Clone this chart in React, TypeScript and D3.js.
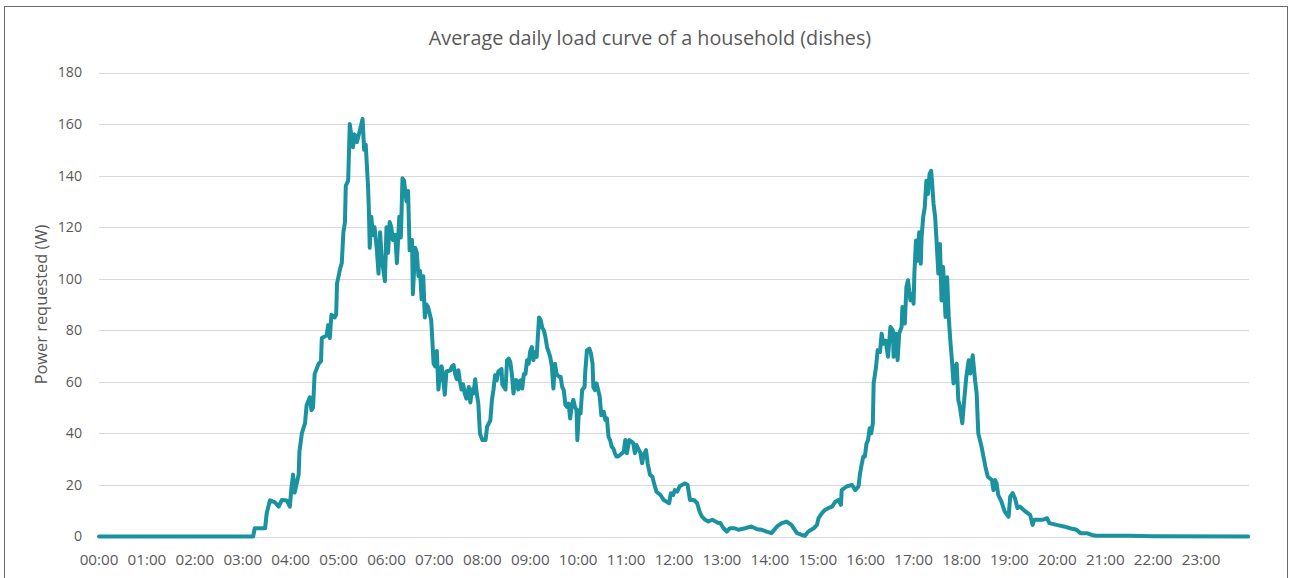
import React from "react";
import * as d3 from "d3";

const title = "Average daily load curve of a household (dishes)";
const yTitle = "Power requested (W)";
const hourLabels = [
  "00:00","01:00","02:00","03:00","04:00","05:00","06:00","07:00","08:00","09:00","10:00","11:00",
  "12:00","13:00","14:00","15:00","16:00","17:00","18:00","19:00","20:00","21:00","22:00","23:00",
];
const yTicks = [0, 20, 40, 60, 80, 100, 120, 140, 160, 180];

// time of day in minutes
const minutes = [
  0, 193, 195, 208, 210, 214, 220, 225, 229, 235, 239, 241, 243, 245, 250, 251, 254, 258, 260, 264,
  266, 268, 270, 275, 278, 279, 285, 287, 289, 291, 295, 297, 298, 302, 304, 306, 308, 309, 312, 314,
  318, 320, 323, 327, 330, 332, 334, 337, 338, 339, 341, 343, 345, 348, 350, 352, 354, 358, 360, 362,
  364, 366, 368, 371, 373, 376, 378, 380, 382, 385, 387, 389, 392, 393, 396, 398, 400, 402, 404, 406,
  408, 410, 412, 416, 419, 421, 423, 425, 427, 429, 431, 433, 435, 440, 442, 444, 446, 448, 450, 452,
  454, 456, 458, 460, 463, 465, 467, 469, 471, 473, 475, 477, 480, 484, 486, 490, 492, 494, 496, 498,
  500, 504, 505, 509, 511, 513, 515, 517, 519, 521, 523, 525, 528, 530, 532, 534, 536, 538, 540, 542,
  544, 546, 548, 551, 553, 555, 557, 559, 561, 563, 565, 567, 569, 571, 573, 576, 578, 580, 582, 584,
  586, 588, 590, 592, 594, 596, 598, 599, 601, 603, 605, 608, 609, 611, 614, 616, 618, 619, 621, 623,
  625, 627, 629, 632, 634, 636, 638, 640, 642, 644, 646, 648, 650, 655, 657, 659, 661, 664, 667, 669,
  671, 673, 675, 678, 680, 682, 685, 687, 690, 693, 695, 698, 703, 707, 711, 714, 716, 719, 721, 724,
  727, 730, 734, 737, 740, 745, 749, 752, 755, 759, 763, 768, 772, 776, 778, 782, 786, 790, 796, 801,
  809, 817, 824, 830, 836, 842, 849, 855, 861, 867, 874, 880, 884, 888, 895, 899, 901, 905, 909, 913,
  918, 922, 926, 929, 930, 936, 943, 947, 951, 953, 955, 957, 959, 961, 963, 965, 967, 969, 970, 973,
  975, 978, 980, 982, 985, 988, 991, 994, 995, 998, 1000, 1002, 1005, 1006, 1009, 1011, 1013, 1016, 1018, 1020,
  1021, 1023, 1025, 1027, 1029, 1030, 1032, 1034, 1036, 1038, 1040, 1042, 1043, 1045, 1047, 1049, 1051, 1053, 1055, 1057,
  1060, 1062, 1064, 1066, 1068, 1070, 1072, 1074, 1076, 1078, 1081, 1083, 1086, 1089, 1091, 1094, 1097, 1099, 1101, 1105,
  1110, 1113, 1118, 1120, 1122, 1124, 1126, 1130, 1134, 1139, 1141, 1144, 1147, 1150, 1153, 1160, 1166, 1169, 1171, 1176,
  1182, 1187, 1190, 1199, 1208, 1216, 1224, 1229, 1237, 1243, 1249, 1290, 1320, 1439,
];
// average power in watts
const watts = [
  0, 0, 3.2, 3.2, 9, 14, 13.3, 11.6, 14.2, 14, 11.6, 19, 24, 17, 24, 33, 40, 44, 51, 54,
  49, 50, 63, 67, 68, 77, 78, 82, 77, 86, 85, 86, 98, 104, 106, 118, 122, 136, 138, 160,
  151, 156, 153, 158, 162, 150, 152, 135, 126, 112, 124, 117, 120, 111, 102, 118, 108, 99, 120, 110,
  122, 120, 115, 117, 106, 124, 116, 139, 138, 130, 134, 111, 115, 94, 112, 110, 101, 103, 92, 101,
  85, 90, 89, 84, 67, 66, 72, 57, 63, 66, 61, 55, 64, 64.5, 66, 66.5, 63, 61, 64.5, 60,
  57, 59, 55.5, 53.5, 58, 52, 57, 55.5, 61, 55.5, 51.6, 40, 37.4, 37.4, 42.6, 45, 53, 57, 62.6, 60.6,
  64, 65, 59, 57, 68.4, 69, 67.7, 63, 55.5, 60.6, 60.6, 57, 60.6, 57.4, 63, 63, 68.4, 67, 72, 73.5,
  68.4, 71.6, 69.7, 85, 84, 81, 80, 77.4, 73.5, 71.6, 69.7, 66, 57.4, 67, 63, 62, 62, 58, 56.8, 51,
  50.3, 51.6, 45.8, 51, 53, 50.3, 49, 37.4, 49, 47.7, 56.8, 58, 64.5, 72.3, 72.9, 71, 67, 58, 56.8, 59.4,
  56.8, 54.2, 47, 48.4, 45.2, 45.8, 38.7, 37.4, 34.8, 34.2, 32.3, 31, 31, 32.3, 32.9, 37.4, 32.3, 37.4, 36.8, 36.1,
  32.3, 35.5, 34.2, 32.3, 28.4, 31.6, 33.5, 28.4, 23.9, 23.2, 20.6, 17.4, 16.1, 14.2, 13.5, 12.9, 16.8, 16.1, 18, 17.4,
  19.4, 20, 20.6, 20, 14.2, 14.2, 12.9, 9.7, 7.7, 6.5, 5.8, 6.5, 5.8, 5.2, 5.2, 3.2, 1.9, 3.2, 3.2, 2.6,
  3.2, 3.9, 2.8, 2.6, 1.9, 1.3, 3.9, 5.2, 5.8, 4.5, 1.3, 0.6, 0.3, 1.9, 3.2, 4.5, 7.1, 9, 10.3, 11,
  11.6, 13.5, 14.2, 12.3, 18, 19.4, 20, 18, 19.4, 24.5, 28, 31, 31, 36, 37.4, 42, 40, 44, 59.4, 65.8,
  72.3, 71.6, 78.7, 74.8, 76, 69.7, 81.3, 80, 69.7, 78.7, 68.4, 78.7, 81.3, 89, 82.6, 96.8, 99.4, 91.6, 94.2, 90.3,
  102, 114.8, 107, 118, 105.8, 116, 123.9, 127.7, 138, 132.9, 140.6, 141.9, 138, 129, 123.9, 113.5, 102, 113.5, 91.6, 104.5,
  85.2, 100.6, 85.2, 76, 68.4, 59.4, 65.8, 67, 52.9, 50.3, 43.9, 51.6, 61.9, 68.4, 63.2, 70.3, 60.6, 55.5, 40, 35,
  27, 23.2, 21.9, 18, 21.9, 20.6, 16.1, 13.5, 9.7, 7.7, 15.5, 16.8, 14.8, 11, 11.6, 9.7, 8.4, 4.5, 6.5, 6.5,
  6.5, 7.1, 5.2, 4.5, 3.9, 3.2, 2.6, 1.3, 1.3, 0.6, 0.3, 0.3, 0.1, 0,
];

const W = 1290;
const H = 578;
const FONT = "'Open Sans', 'Noto Sans', sans-serif";
const TEXT = "#595959";
const GRID = "#d9d9d9";
const LINE = "#1a929f";

export default function App() {
  const x = d3.scaleLinear().domain([0, 1440]).range([99, 1249]);
  const y = d3.scaleLinear().domain([0, 180]).range([536.5, 72.5]);
  const pts = minutes.map((m, i) => [m, watts[i]] as [number, number]);
  const path = d3
    .line<[number, number]>()
    .x((d) => x(d[0]))
    .y((d) => y(d[1]))
    .curve(d3.curveLinear)(pts) as string;

  return (
    <div style={{ position: "absolute", left: 0, top: 0 }}>
      <svg width={W} height={H} style={{ display: "block", background: "#fff" }} fontFamily={FONT}>
        <rect x={4.5} y={6.5} width={1283} height={620} fill="#fff" stroke="#6b6b6b" strokeWidth={1} />
        <text x={650} y={45} textAnchor="middle" fontSize={19.8} fill={TEXT}>
          {title}
        </text>
        {yTicks.map((t) => (
          <g key={t}>
            <line x1={99} x2={1249} y1={Math.round(y(t)) + 0.5} y2={Math.round(y(t)) + 0.5} stroke={GRID} strokeWidth={1} />
            <text x={82} y={y(t)} dy="0.35em" textAnchor="end" fontSize={14.2} fill={TEXT}>
              {t}
            </text>
          </g>
        ))}
        {hourLabels.map((lab, i) => (
          <text key={lab} x={x(i * 60)} y={564.5} textAnchor="middle" fontSize={15.2} fill={TEXT}>
            {lab}
          </text>
        ))}
        <text
          transform={`translate(47, ${(y(0) + y(180)) / 2}) rotate(-90)`}
          textAnchor="middle"
          fontSize={16.4}
          fill={TEXT}
        >
          {yTitle}
        </text>
        <path d={path} fill="none" stroke={LINE} strokeWidth={4} strokeLinejoin="round" strokeLinecap="round" />
      </svg>
    </div>
  );
}
